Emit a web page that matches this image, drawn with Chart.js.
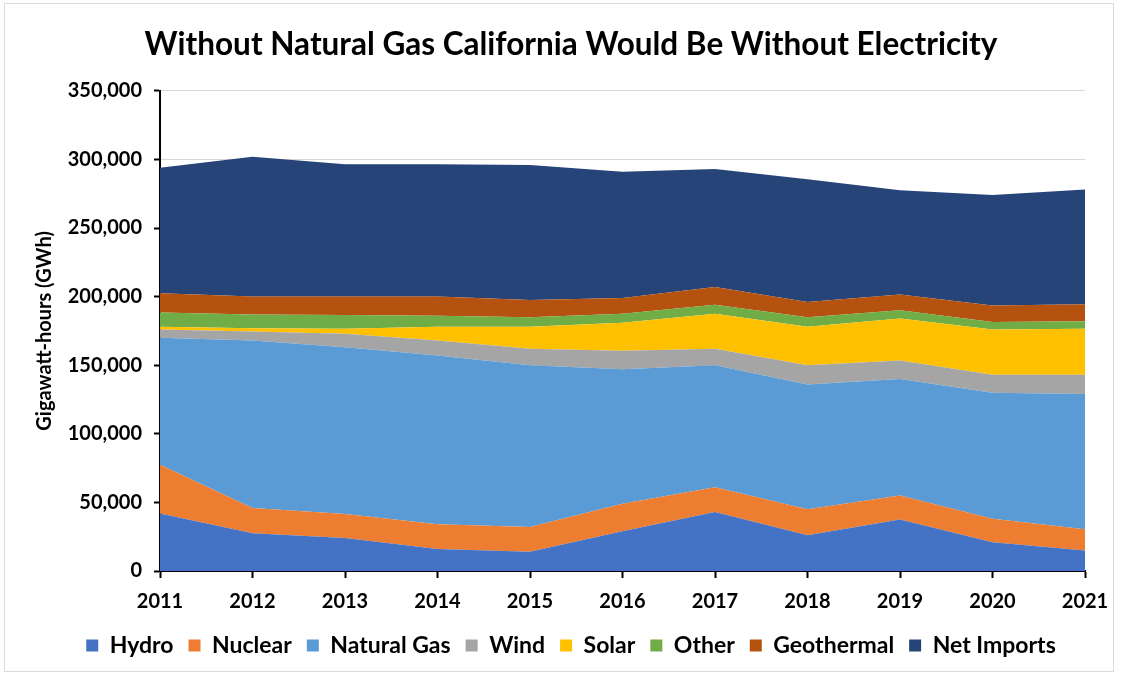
<!DOCTYPE html>
<html>
<head>
<meta charset="utf-8">
<title>California electricity by source</title>
<script src="https://cdn.jsdelivr.net/npm/chart.js@4.4.0/dist/chart.umd.min.js"></script>
<style>
  html, body { margin: 0; background: #fff; }
  #wrap { position: relative; width: 1122px; height: 677px; }
  #frame { position: absolute; left: 4px; top: 3px; width: 1108px; height: 667px; border: 1px solid #dcdcdc; pointer-events: none; }
</style>
</head>
<body>
<div id="wrap">
  <canvas id="chart" width="1122" height="677"></canvas>
  <div id="frame"></div>
</div>
<script>
// generation by source, GWh
const years = ["2011", "2012", "2013", "2014", "2015", "2016", "2017", "2018", "2019", "2020", "2021"];
const hydro = [42000, 27500, 24000, 16000, 14000, 29000, 43000, 26000, 37500, 21000, 15000];
const nuclear = [35500, 18500, 17500, 18000, 18000, 20000, 18000, 19000, 17500, 17000, 15500];
const naturalGas = [92500, 122000, 121500, 123000, 118000, 98000, 89000, 91000, 85000, 92000, 98500];
const wind = [6000, 6500, 10000, 11000, 12000, 13500, 12000, 14000, 13500, 13000, 14000];
const solar = [2000, 2500, 3500, 10000, 16000, 20500, 25500, 28000, 30500, 33000, 33500];
const other = [10500, 10000, 10000, 8000, 7000, 6500, 6500, 7000, 6000, 5500, 5500];
const geothermal = [14000, 13000, 13500, 14000, 12500, 11500, 13000, 11000, 11500, 12000, 12500];
const netImports = [91500, 102000, 96500, 96500, 98500, 92000, 86000, 89500, 76000, 80500, 83500];
const yTicks = [0, 50000, 100000, 150000, 200000, 250000, 300000, 350000];

const FONT = "Lato, 'Open Sans', sans-serif";

const series = [
  ["Hydro", hydro, "#4472C4"],
  ["Nuclear", nuclear, "#ED7D31"],
  ["Natural Gas", naturalGas, "#5B9BD5"],
  ["Wind", wind, "#A5A5A5"],
  ["Solar", solar, "#FFC000"],
  ["Other", other, "#70AD47"],
  ["Geothermal", geothermal, "#B5520F"],
  ["Net Imports", netImports, "#264478"]
];

const datasets = series.map(([label, data, color], i) => ({
  label: label,
  data: data,
  backgroundColor: color,
  borderColor: color,
  borderWidth: 0,
  pointRadius: 0,
  tension: 0,
  fill: i === 0 ? "origin" : "-1"
}));

const ctx = document.getElementById("chart").getContext("2d");

new Chart(ctx, {
  type: "line",
  data: { labels: years, datasets: datasets },
  options: {
    responsive: false,
    animation: false,
    // left padding keeps title and legend centred a bit right of the canvas middle
    layout: { padding: { left: 57, right: 37, top: 26, bottom: 10 } },
    plugins: {
      tooltip: { enabled: false },
      title: {
        display: true,
        text: "Without Natural Gas California Would Be Without Electricity",
        color: "#000",
        font: { family: FONT, size: 31.5, weight: "bold" },
        padding: { top: 0, bottom: 27 }
      },
      legend: {
        position: "bottom",
        labels: {
          color: "#000",
          font: { family: FONT, size: 23, weight: "bold" },
          boxWidth: 12,
          boxHeight: 12,
          padding: 15
        }
      }
    },
    scales: {
      x: {
        offset: false,
        grid: { drawOnChartArea: false, tickLength: 7, tickColor: "#000", tickWidth: 2 },
        border: { display: true, color: "#000", width: 2 },
        ticks: { color: "#000", padding: 12, maxRotation: 0, font: { family: FONT, size: 20, weight: "bold" } },
        afterFit: (scale) => { scale.height = 48; }
      },
      y: {
        stacked: true,
        min: 0,
        max: 350000,
        afterBuildTicks: (scale) => { scale.ticks = yTicks.map((v) => ({ value: v })); },
        grid: { color: "#d9d9d9", lineWidth: 1, tickLength: 6, tickColor: "#000", tickWidth: 2 },
        border: { display: true, color: "#000", width: 2 },
        ticks: {
          color: "#000",
          padding: 12,
          font: { family: FONT, size: 20, weight: "bold" },
          callback: (v) => v.toLocaleString("en-US")
        },
        title: {
          display: true,
          text: "Gigawatt-hours (GWh)",
          color: "#000",
          font: { family: FONT, size: 20, weight: "bold" },
          padding: { top: -24, bottom: 6 }
        },
        afterFit: (scale) => { scale.width = 103; }
      }
    }
  }
});
</script>
</body>
</html>
